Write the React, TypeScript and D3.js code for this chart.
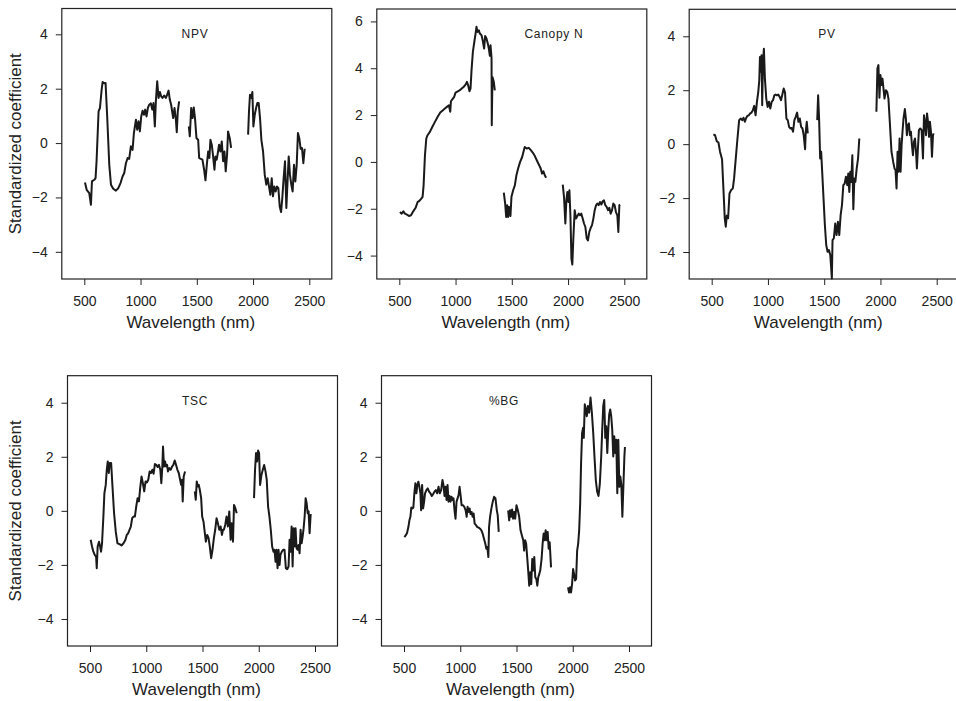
import React, { useEffect, useRef } from "react";
import * as d3 from "d3";

// [wavelength (nm), standardized coefficient], one array per segment
const npv: [number, number][][] = [
  [[506,-1.45],[521,-1.72],[544,-1.84],[559,-2.27],[568,-1.41],[589,-1.35],[600,-1.29],[609,-0.67],[627,1.17],[639,1.29],[654,1.96],[663,2.25],[677,2.2],[689,2.21],[704,0.92],[722,-0.8],[737,-1.53],[757,-1.68],[781,-1.75],[802,-1.66],[822,-1.47],[840,-1.23],[855,-1.1],[870,-0.74],[885,-0.55],[899,-0.58],[914,-0.12],[929,-0.25],[941,0.37],[959,0.86],[970,0.49],[982,0.8],[994,0.43],[1006,0.98],[1018,1.19],[1030,1.04],[1041,1.23],[1053,0.98],[1065,1.29],[1077,1.41],[1092,1.46],[1104,1.23],[1115,1.47],[1127,0.61],[1136,1.53],[1148,2.27],[1160,1.66],[1172,1.88],[1183,1.72],[1195,1.66],[1210,1.75],[1225,1.66],[1237,1.78],[1249,1.93],[1260,1.6],[1272,1.41],[1290,0.92],[1302,1.29],[1314,0.86],[1322,0.4],[1331,1.17],[1343,1.53]],
  [[1429,0.61],[1438,0.25],[1450,1.29],[1462,0.92],[1473,1.31],[1485,0.86],[1497,0.18],[1512,0.12],[1521,-0.55],[1536,-0.58],[1550,-0.61],[1565,-0.98],[1577,-1.37],[1589,-0.8],[1601,-0.31],[1612,-0.55],[1621,0.12],[1633,-0.06],[1645,-0.49],[1657,-0.98],[1666,-0.49],[1677,-0.61],[1689,-0.31],[1698,-0.06],[1710,-0.31],[1722,0.06],[1734,-0.67],[1746,-0.31],[1757,-1.04],[1769,-0.43],[1778,0.43],[1793,0.18],[1805,-0.18]],
  [[1956,0.31],[1964,1.17],[1973,1.78],[1985,1.66],[1994,1.88],[2003,0.61],[2015,1.04],[2027,1.29],[2038,1.47],[2050,1.47],[2062,0.92],[2074,0.12],[2089,-0.31],[2104,-1.17],[2118,-1.53],[2130,-1.29],[2142,-1.6],[2154,-1.9],[2166,-1.29],[2177,-1.96],[2189,-1.6],[2201,-1.78],[2213,-1.6],[2225,-1.66],[2237,-2.33],[2249,-2.54],[2260,-2.02],[2272,-1.29],[2284,-0.67],[2296,-2.39],[2308,-1.29],[2317,-0.49],[2328,-1.17],[2340,-1.53],[2352,-1.78],[2364,-0.8],[2376,-1.41],[2388,-0.8],[2399,0.37],[2411,0.18],[2423,-0.21],[2435,-0.18],[2447,-0.74],[2459,-0.21]],
];

const canopyN: [number, number][][] = [
  [[506,-2.14],[521,-2.21],[536,-2.11],[550,-2.21],[568,-2.25],[586,-2.31],[604,-2.28],[624,-2.11],[645,-1.96],[663,-1.71],[675,-1.68],[692,-1.59],[707,-1.49],[716,-1.0],[728,0.28],[740,1.0],[751,1.14],[772,1.28],[793,1.49],[817,1.71],[840,1.92],[864,2.11],[888,2.21],[905,2.28],[923,2.35],[941,2.42],[953,2.14],[959,2.59],[973,2.68],[988,2.78],[1000,2.96],[1024,3.02],[1047,3.1],[1071,3.2],[1089,3.3],[1101,3.42],[1112,3.27],[1124,3.02],[1133,3.13],[1142,3.91],[1154,4.7],[1166,5.1],[1178,5.48],[1186,5.77],[1195,5.55],[1207,5.62],[1216,5.48],[1231,5.41],[1243,5.15],[1254,4.84],[1263,5.38],[1275,5.27],[1287,5.05],[1296,4.84],[1305,4.53],[1311,4.98],[1320,4.44],[1322,1.57],[1328,3.63],[1340,3.42],[1349,3.06]],
  [[1429,-1.31],[1441,-1.78],[1450,-2.35],[1459,-1.85],[1467,-2.35],[1476,-1.92],[1488,-2.31],[1497,-1.49],[1512,-1.21],[1527,-1.0],[1541,-0.57],[1556,-0.28],[1574,0.0],[1592,0.21],[1604,0.43],[1615,0.64],[1633,0.57],[1651,0.6],[1669,0.5],[1686,0.4],[1704,0.26],[1722,0.07],[1740,-0.11],[1757,-0.28],[1769,-0.5],[1781,-0.4],[1793,-0.57],[1805,-0.68]],
  [[1953,-0.97],[1964,-1.49],[1976,-2.63],[1985,-1.64],[1994,-1.28],[2003,-1.71],[2012,-1.21],[2021,-2.28],[2030,-4.13],[2038,-4.38],[2047,-3.27],[2059,-2.06],[2071,-2.42],[2083,-2.31],[2095,-2.21],[2107,-2.28],[2118,-2.21],[2130,-2.42],[2142,-2.63],[2154,-2.78],[2166,-3.27],[2177,-3.35],[2189,-2.99],[2201,-2.82],[2213,-2.7],[2225,-2.42],[2237,-2.06],[2249,-1.85],[2260,-1.78],[2272,-1.85],[2284,-1.71],[2296,-1.82],[2308,-1.68],[2319,-1.64],[2331,-1.85],[2343,-1.92],[2355,-2.06],[2367,-1.96],[2379,-2.21],[2391,-2.06],[2402,-1.78],[2414,-1.85],[2426,-2.14],[2438,-2.28],[2447,-2.99],[2456,-1.85],[2462,-1.82]],
];

const pv: [number, number][][] = [
  [[515,0.36],[530,0.33],[545,0.11],[560,0.06],[574,-0.28],[592,-0.56],[604,-1.64],[616,-2.75],[625,-3.06],[634,-2.65],[646,-2.75],[658,-1.83],[673,-1.7],[688,-1.64],[699,-1.27],[714,-0.53],[729,0.21],[744,0.89],[759,0.95],[771,0.89],[783,0.98],[795,0.83],[807,0.98],[818,1.05],[830,1.07],[842,1.14],[854,1.17],[866,1.26],[878,1.42],[890,1.07],[902,1.57],[914,1.94],[923,2.37],[929,3.23],[937,2.68],[943,3.3],[949,1.44],[955,2.93],[964,3.54],[973,2.43],[985,1.69],[997,1.38],[1009,1.57],[1021,1.32],[1033,1.57],[1045,1.63],[1057,1.81],[1068,1.84],[1080,1.81],[1092,1.84],[1104,1.75],[1116,1.63],[1128,1.84],[1140,2.06],[1152,1.91],[1164,0.95],[1176,0.89],[1188,0.64],[1199,0.58],[1211,0.6],[1223,0.46],[1235,0.89],[1247,1.01],[1259,1.17],[1271,0.83],[1283,0.95],[1295,0.64],[1307,0.58],[1318,0.33],[1330,-0.19],[1336,0.46],[1345,0.83],[1354,0.4]],
  [[1438,0.89],[1446,1.81],[1455,0.89],[1464,-0.53],[1473,-0.28],[1482,-1.02],[1494,-2.01],[1506,-3.0],[1518,-3.74],[1530,-3.99],[1542,-3.93],[1554,-4.11],[1562,-4.6],[1568,-4.98],[1574,-3.56],[1586,-3.49],[1598,-2.94],[1610,-3.37],[1622,-2.88],[1634,-3.37],[1646,-2.63],[1658,-2.26],[1670,-1.52],[1682,-1.46],[1693,-1.21],[1705,-1.52],[1714,-1.09],[1723,-1.77],[1732,-1.02],[1741,-1.4],[1750,-0.41],[1759,-2.41],[1768,-1.27],[1777,-1.4],[1789,-0.9],[1801,-0.53],[1812,0.21]],
  [[1964,1.2],[1973,2.8],[1982,2.93],[1991,1.72],[2000,2.56],[2009,2.19],[2018,2.43],[2027,2.06],[2036,1.69],[2048,2.0],[2060,1.94],[2071,1.69],[2083,0.83],[2098,-0.28],[2113,-0.65],[2125,-0.9],[2134,-0.96],[2143,-1.64],[2152,-0.28],[2161,-1.02],[2170,0.21],[2179,-1.02],[2188,-0.04],[2196,0.46],[2205,0.95],[2217,1.3],[2226,0.95],[2235,0.33],[2244,0.7],[2253,0.77],[2262,0.33],[2271,0.46],[2280,-0.04],[2289,-0.41],[2298,0.09],[2307,0.21],[2316,-0.28],[2324,-0.9],[2333,-0.16],[2342,0.52],[2354,0.58],[2366,0.52],[2378,-0.53],[2387,1.07],[2396,0.83],[2405,0.33],[2414,1.14],[2423,0.83],[2432,0.27],[2440,0.83],[2449,0.46],[2458,-0.47],[2467,0.33],[2473,0.4]],
];

const tsc: [number, number][][] = [
  [[506,-1.07],[518,-1.32],[530,-1.51],[542,-1.63],[554,-1.69],[560,-2.12],[568,-1.32],[580,-1.14],[589,-1.3],[598,-1.51],[607,-1.2],[619,-0.21],[628,0.65],[640,0.96],[649,1.52],[658,1.83],[667,1.4],[676,1.77],[688,1.77],[699,0.96],[714,-0.09],[729,-0.77],[744,-1.2],[762,-1.23],[780,-1.28],[798,-1.2],[815,-1.07],[827,-0.89],[839,-0.83],[851,-0.7],[863,-0.58],[875,-0.27],[887,-0.21],[899,-0.21],[911,0.16],[923,0.47],[935,0.35],[946,0.84],[958,1.27],[970,1.02],[982,0.72],[994,1.09],[1006,1.05],[1018,1.15],[1030,1.46],[1042,1.4],[1054,1.52],[1065,1.37],[1077,1.73],[1089,1.7],[1101,1.62],[1113,1.7],[1125,1.52],[1134,1.02],[1143,1.64],[1149,2.38],[1158,1.64],[1167,1.83],[1176,1.64],[1185,1.7],[1193,1.46],[1205,1.58],[1217,1.52],[1229,1.64],[1241,1.7],[1253,1.86],[1265,1.7],[1277,1.52],[1289,1.4],[1301,1.15],[1310,0.96],[1318,1.15],[1324,0.35],[1333,1.27],[1345,1.46]],
  [[1432,0.72],[1440,0.41],[1449,1.09],[1458,0.9],[1467,0.96],[1476,0.78],[1488,0.47],[1497,-0.21],[1509,-0.4],[1521,-0.83],[1530,-1.14],[1542,-0.89],[1554,-1.01],[1565,-1.32],[1577,-1.75],[1589,-1.44],[1601,-1.01],[1613,-0.7],[1625,-0.27],[1637,-0.46],[1649,-0.7],[1661,-0.58],[1673,-0.89],[1682,-0.7],[1690,-0.7],[1702,-0.52],[1714,-0.21],[1726,-0.58],[1738,-0.02],[1750,-1.07],[1759,-0.46],[1771,-1.14],[1780,0.22],[1792,0.1],[1804,-0.09]],
  [[1958,0.47],[1967,1.52],[1976,2.14],[1985,1.83],[1994,2.23],[2003,2.14],[2012,0.96],[2024,1.33],[2036,1.52],[2048,1.7],[2060,1.46],[2071,1.15],[2083,0.16],[2095,-0.21],[2107,-0.7],[2119,-1.32],[2131,-1.51],[2140,-1.44],[2149,-1.88],[2158,-1.44],[2167,-2.12],[2176,-1.44],[2185,-2.0],[2193,-1.63],[2205,-1.51],[2217,-1.44],[2229,-1.44],[2241,-2.12],[2253,-2.16],[2265,-2.06],[2274,-1.07],[2283,-1.51],[2292,-0.58],[2301,-2.06],[2310,-0.64],[2318,-1.32],[2327,-0.64],[2336,-1.38],[2345,-1.44],[2354,-1.26],[2363,-1.57],[2372,-0.7],[2381,-1.2],[2390,-0.95],[2399,-0.64],[2408,-0.21],[2417,0.47],[2426,0.28],[2435,-0.09],[2443,-0.02],[2452,-0.83],[2461,-0.15],[2470,-0.15]],
];

const bg: [number, number][][] = [
  [[503,-0.97],[515,-0.91],[527,-0.82],[539,-0.6],[548,-0.35],[557,-0.22],[565,0.12],[574,0.09],[583,0.12],[592,0.65],[601,1.02],[610,0.65],[619,0.96],[628,1.08],[637,0.89],[646,0.65],[652,0.02],[661,0.96],[670,0.09],[679,0.34],[687,0.65],[699,0.77],[711,0.83],[723,0.71],[735,0.65],[747,0.55],[759,0.62],[771,0.71],[783,0.77],[795,0.65],[807,0.89],[818,0.65],[830,0.77],[842,1.14],[851,0.96],[860,0.55],[869,0.89],[878,0.4],[887,0.96],[896,0.34],[905,0.55],[914,0.34],[923,0.52],[932,0.4],[940,0.46],[949,0.02],[958,-0.29],[967,0.34],[976,0.46],[985,0.58],[994,0.89],[1003,0.58],[1012,0.21],[1024,0.21],[1036,0.15],[1048,0.02],[1057,-0.22],[1065,0.15],[1074,-0.04],[1083,0.09],[1092,-0.12],[1101,-0.04],[1110,-0.22],[1119,-0.1],[1128,-0.47],[1140,-0.53],[1152,-0.6],[1164,-0.62],[1176,-0.66],[1188,-0.72],[1199,-0.84],[1211,-1.03],[1223,-1.22],[1232,-1.4],[1241,-1.34],[1250,-1.71],[1256,-0.6],[1265,-0.22],[1277,0.09],[1289,0.34],[1301,0.52],[1313,0.46],[1325,0.02],[1333,-0.16],[1342,-0.78]],
  [[1426,0.02],[1435,-0.35],[1443,0.02],[1452,-0.22],[1461,0.05],[1470,-0.29],[1479,-0.04],[1488,-0.29],[1500,0.21],[1512,0.02],[1524,-0.22],[1536,-0.72],[1548,-0.91],[1560,-1.09],[1568,-1.47],[1577,-1.09],[1586,-1.22],[1595,-1.71],[1604,-2.21],[1613,-2.77],[1622,-2.27],[1631,-2.71],[1640,-1.78],[1649,-2.21],[1658,-1.71],[1667,-2.46],[1676,-2.52],[1685,-2.77],[1693,-2.46],[1702,-2.34],[1711,-2.21],[1723,-1.78],[1732,-1.22],[1741,-0.84],[1750,-1.09],[1759,-0.72],[1768,-1.09],[1777,-0.78],[1786,-1.4],[1795,-1.16],[1807,-2.09]],
  [[1958,-2.83],[1967,-3.02],[1976,-2.83],[1985,-3.02],[1994,-2.71],[2003,-2.15],[2012,-2.34],[2021,-2.58],[2030,-2.52],[2039,-1.47],[2048,-1.22],[2057,-0.72],[2066,0.27],[2074,1.76],[2083,2.88],[2092,3.07],[2098,2.7],[2107,3.94],[2116,3.75],[2125,3.5],[2134,3.88],[2146,3.63],[2158,4.19],[2170,3.63],[2182,2.88],[2193,2.01],[2205,1.14],[2217,0.71],[2229,0.55],[2241,1.02],[2253,2.01],[2262,3.01],[2271,3.88],[2280,4.1],[2289,2.7],[2298,3.13],[2307,2.14],[2316,3.01],[2324,3.57],[2333,3.75],[2342,3.5],[2351,3.01],[2360,2.01],[2369,2.76],[2378,2.14],[2387,2.63],[2396,0.65],[2405,2.63],[2414,0.89],[2423,1.27],[2432,0.96],[2441,-0.22],[2450,0.89],[2459,2.01],[2464,2.36]],
];

const xTicks = [500, 1000, 1500, 2000, 2500];
const yTicksA = [-4, -2, 0, 2, 4];
const yTicksN = [-4, -2, 0, 2, 4, 6];

const FONT = "'Liberation Sans', Arial, Helvetica, sans-serif";
const PANEL_W = 270;

const panels = [
  { title: "NPV", data: npv, left: 61.8, top: 8.5, bottom: 279, yMax: 4.95, yTicks: yTicksA, titleX: 1484, yLabel: true },
  { title: "Canopy N", data: canopyN, left: 376.8, top: 9, bottom: 279, yMax: 6.53, yTicks: yTicksN, titleX: 1875, yLabel: false },
  { title: "PV", data: pv, left: 689.2, top: 9.3, bottom: 279, yMax: 5, yTicks: yTicksA, titleX: 1525, yLabel: false },
  { title: "TSC", data: tsc, left: 67.5, top: 375.7, bottom: 646, yMax: 5, yTicks: yTicksA, titleX: 1433, yLabel: true },
  { title: "%BG", data: bg, left: 381.5, top: 375.7, bottom: 646, yMax: 5, yTicks: yTicksA, titleX: 1389, yLabel: false },
];

export default function App() {
  const svgRef = useRef<SVGSVGElement>(null);

  useEffect(() => {
    const svg = d3.select(svgRef.current);
    svg.selectAll("*").remove();

    panels.forEach((p) => {
      const x = d3.scaleLinear().domain([300, 2700]).range([p.left, p.left + PANEL_W]);
      const y = d3.scaleLinear().domain([-5, p.yMax]).range([p.bottom, p.top]);
      const g = svg.append("g");

      // frame
      g.append("rect")
        .attr("x", p.left)
        .attr("y", p.top)
        .attr("width", PANEL_W)
        .attr("height", p.bottom - p.top)
        .attr("fill", "none")
        .attr("stroke", "#222")
        .attr("stroke-width", 1.2);

      // x axis
      const xa = g.append("g")
        .attr("transform", `translate(0,${p.bottom})`)
        .call(d3.axisBottom(x).tickValues(xTicks).tickSize(6).tickPadding(11).tickFormat(d3.format("d")));
      xa.select(".domain").remove();
      xa.selectAll("text").style("font-size", "14px").style("font-family", FONT).attr("fill", "#222");
      xa.selectAll("line").attr("stroke", "#222");

      // y axis
      const ya = g.append("g")
        .attr("transform", `translate(${p.left},0)`)
        .call(d3.axisLeft(y).tickValues(p.yTicks).tickSize(6).tickPadding(8).tickFormat(d3.format("d")));
      ya.select(".domain").remove();
      ya.selectAll("text").style("font-size", "14px").style("font-family", FONT).attr("fill", "#222");
      ya.selectAll("line").attr("stroke", "#222");

      // axis titles
      g.append("text")
        .attr("x", p.left + PANEL_W / 2 - 6)
        .attr("y", p.bottom + 49)
        .attr("text-anchor", "middle")
        .style("font-size", "17px")
        .style("font-family", FONT)
        .attr("fill", "#222")
        .text("Wavelength (nm)");

      if (p.yLabel) {
        const cy = (p.top + p.bottom) / 2;
        g.append("text")
          .attr("transform", `translate(21,${cy}) rotate(-90)`)
          .attr("text-anchor", "middle")
          .style("font-size", "17px")
          .style("font-family", FONT)
          .attr("fill", "#222")
          .text("Standardized coefficient");
      }

      // panel title
      g.append("text")
        .attr("x", x(p.titleX))
        .attr("y", p.top + 29)
        .attr("text-anchor", "middle")
        .style("font-size", "12px")
        .style("letter-spacing", "0.7px")
        .style("font-family", FONT)
        .attr("fill", "#222")
        .text(p.title);

      // coefficient curves
      const line = d3.line<[number, number]>()
        .x((d) => x(d[0]))
        .y((d) => y(d[1]));
      p.data.forEach((seg) => {
        g.append("path")
          .attr("d", line(seg))
          .attr("fill", "none")
          .attr("stroke", "#1a1a1a")
          .attr("stroke-width", 2)
          .attr("stroke-linejoin", "round");
      });
    });
  }, []);

  return (
    <svg
      ref={svgRef}
      width={956}
      height={701}
      style={{ position: "absolute", left: 0, top: 0, background: "#fff" }}
    />
  );
}
